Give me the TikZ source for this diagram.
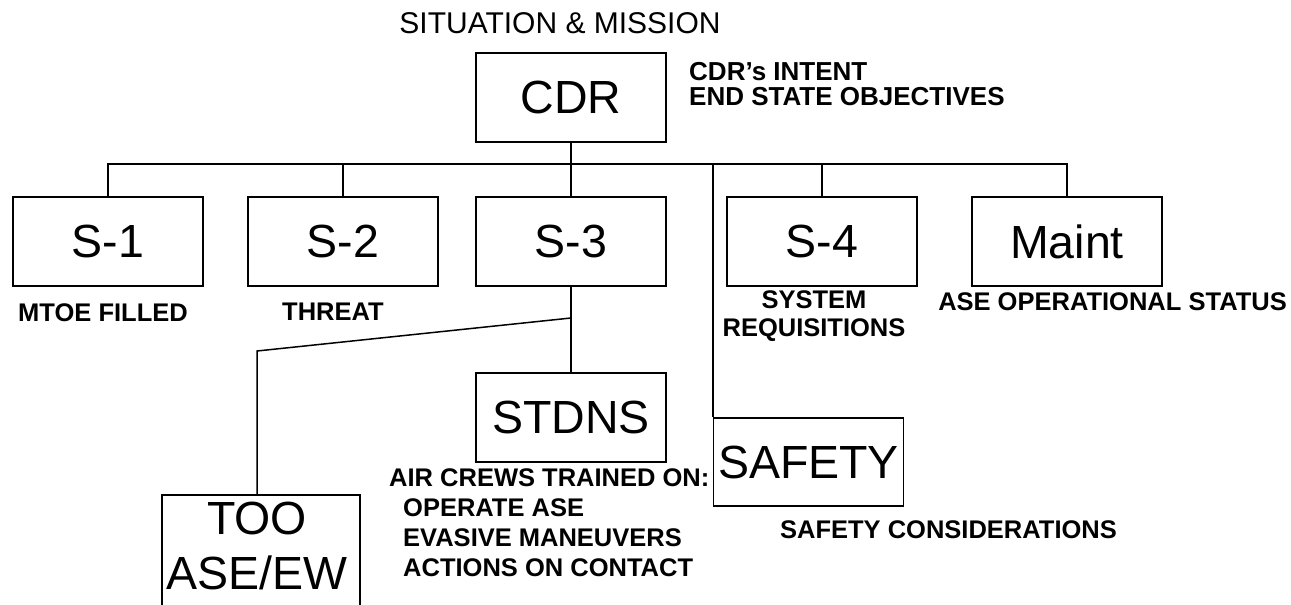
\documentclass[tikz,border=0pt]{standalone}
\usepackage{fontspec}
\setmainfont{Liberation Sans}
\usetikzlibrary{positioning}

\begin{document}
\begin{tikzpicture}[
  x=1pt, y=-1pt,
  box/.style={draw, line width=1.5pt, minimum width=190pt, minimum height=89pt, inner sep=0pt, font=\fontsize{46.5}{55}\selectfont},
  note/.style={font=\bfseries\fontsize{25.5}{28}\selectfont, inner sep=0pt},
  head/.style={font=\fontsize{30}{36}\selectfont, inner sep=0pt},
  link/.style={line width=1.5pt}
]
\useasboundingbox (0,0) rectangle (1291,605);
\clip (0,0) rectangle (1291,605);
\fill[white] (0,0) rectangle (1291,605);

% top
\node[head] (sit) at (560,23) {SITUATION \& MISSION};
\node[box] (cdr) at (571,97.5) {CDR};
\node[note, anchor=west, align=left, font=\bfseries\fontsize{26}{25}\selectfont] (intent) at (689,84.5) {CDR's INTENT\\END STATE OBJECTIVES};

% staff row
\coordinate (bus) at (0,164);
\node[box] (s1) at (108,241.5) {S-1};
\node[box] (s2) at (343,241.5) {S-2};
\node[box] (s3) at (571,241.5) {S-3};
\node[box] (s4) at (822,241.5) {S-4};
\node[box] (maint) at (1067,241.5) {Maint};

\node[note, below=17pt of s1, xshift=-5pt] (mtoe) {MTOE FILLED};
\node[note, below=16pt of s2, xshift=-10pt] (threat) {THREAT};
\node[note, align=center] (req) at (814,316) {SYSTEM\\REQUISITIONS};
\node[note] (status) at (1112.5,302) {ASE OPERATIONAL STATUS};

% lower row
\node[box] (stdns) at (571,417.5) {STDNS};
\node[box, minimum height=88pt] (safety) at (808.5,462) {SAFETY};
\node[box, anchor=north, minimum width=198pt, minimum height=140pt,
  label={[font=\fontsize{46.5}{55}\selectfont, align=center, inner sep=0pt, yshift=18.5pt, xshift=-4pt]center:TOO\\ASE/EW}] (too) at (261,494) {};

\node[note, anchor=west, align=left, font=\bfseries\fontsize{25.5}{30}\selectfont] (crews) at (389,523)
  {AIR CREWS TRAINED ON:\\\hspace*{14pt}OPERATE ASE\\\hspace*{14pt}EVASIVE MANEUVERS\\\hspace*{14pt}ACTIONS ON CONTACT};
\node[note] (safenote) at (948.5,530) {SAFETY CONSIDERATIONS};

% connectors
\draw[link] (cdr.south) -- (cdr.south |- bus);
\draw[link] (s1.north) -- (s1.north |- bus) -- (maint.north |- bus) -- (maint.north);
\draw[link] (s2.north) -- (s2.north |- bus);
\draw[link] (s3.north) -- (s3.north |- bus);
\draw[link] (s4.north) -- (s4.north |- bus);
\draw[link] (safety.north west |- bus) -- (safety.north west);
\draw[link] (s3.south) -- (stdns.north);
\coordinate (fork) at (571,318);
\coordinate (bend) at (257,351);
\draw[link] (fork) -- (bend) -- (bend |- too.north);
\end{tikzpicture}
\end{document}
